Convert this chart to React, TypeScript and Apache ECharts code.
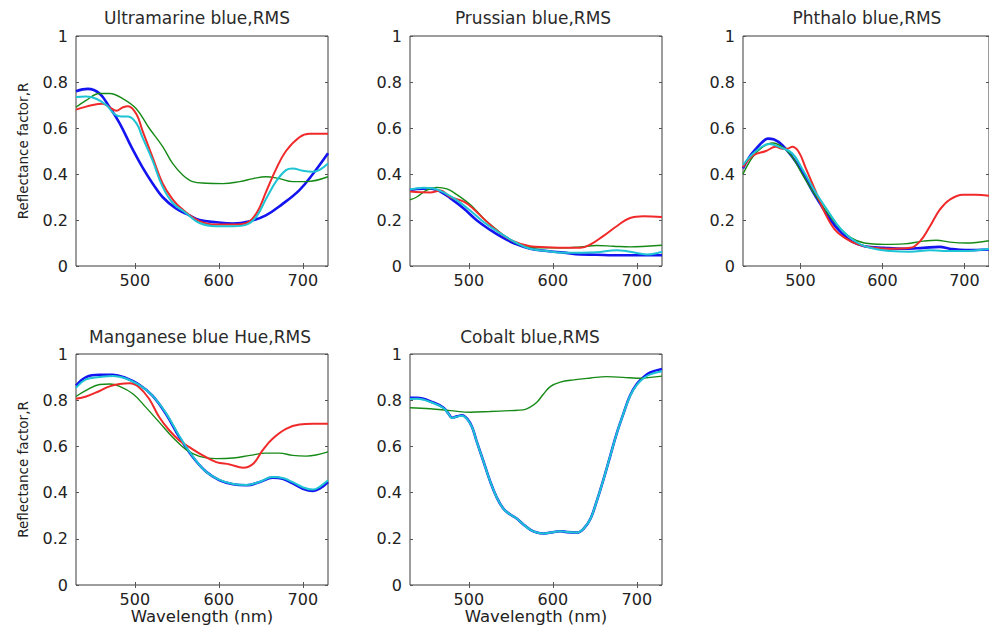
import React, { useEffect, useRef } from "react";
import * as echarts from "echarts";

// ---------- data ----------
const titles = [
  "Ultramarine blue,RMS",
  "Prussian blue,RMS",
  "Phthalo blue,RMS",
  "Manganese blue Hue,RMS",
  "Cobalt blue,RMS",
];
const xTicks = [500, 600, 700];
const yLabel = "Reflectance factor,R";
const xLabel = "Wavelength (nm)";

// Ultramarine blue
const ultramarineBlue = [[430,0.76],[444,0.77],[458,0.75],[470,0.69],[482,0.62],[497,0.51],[509,0.43],[521,0.36],[533,0.30],[549,0.25],[565,0.22],[577,0.20],[597,0.19],[617,0.185],[637,0.195],[656,0.22],[676,0.27],[696,0.33],[712,0.40],[730,0.49]];
const ultramarineRed = [[430,0.68],[450,0.70],[462,0.705],[470,0.69],[478,0.675],[486,0.69],[492,0.695],[502,0.66],[509,0.59],[521,0.475],[533,0.36],[545,0.29],[557,0.245],[577,0.195],[597,0.18],[617,0.18],[633,0.187],[645,0.23],[656,0.32],[668,0.42],[680,0.50],[696,0.56],[708,0.575],[730,0.575]];
const ultramarineCyan = [[430,0.735],[442,0.737],[454,0.727],[466,0.70],[476,0.66],[484,0.65],[492,0.65],[502,0.62],[509,0.56],[521,0.46],[533,0.345],[545,0.275],[561,0.23],[577,0.187],[597,0.173],[617,0.173],[633,0.18],[645,0.216],[656,0.29],[668,0.367],[680,0.417],[688,0.424],[700,0.414],[712,0.41],[730,0.446]];
const ultramarineGreen = [[430,0.69],[442,0.72],[458,0.75],[470,0.75],[486,0.727],[502,0.683],[517,0.60],[533,0.52],[545,0.446],[557,0.396],[569,0.367],[585,0.36],[605,0.358],[625,0.367],[641,0.38],[656,0.388],[672,0.38],[688,0.367],[704,0.367],[730,0.388]];

// Prussian blue
const prussianBlue = [[430,0.33],[438,0.335],[454,0.337],[466,0.324],[478,0.295],[494,0.25],[509,0.20],[525,0.158],[541,0.122],[557,0.094],[573,0.075],[593,0.065],[613,0.058],[633,0.05],[652,0.049],[672,0.047],[730,0.047]];
const prussianCyan = [[430,0.333],[446,0.34],[458,0.337],[470,0.32],[486,0.285],[502,0.24],[518,0.19],[534,0.15],[557,0.10],[573,0.075],[593,0.065],[613,0.058],[633,0.058],[652,0.06],[676,0.069],[692,0.062],[712,0.05],[730,0.062]];
const prussianRed = [[430,0.324],[454,0.32],[466,0.328],[478,0.30],[494,0.28],[505,0.25],[521,0.194],[537,0.144],[553,0.108],[573,0.086],[593,0.082],[613,0.079],[633,0.079],[645,0.094],[660,0.13],[676,0.173],[692,0.209],[708,0.216],[730,0.213]];
const prussianGreen = [[430,0.288],[438,0.30],[450,0.33],[462,0.342],[474,0.335],[486,0.31],[502,0.266],[517,0.209],[533,0.158],[549,0.115],[565,0.086],[585,0.079],[613,0.079],[633,0.083],[652,0.089],[672,0.086],[692,0.083],[712,0.086],[730,0.09]];

// Phthalo blue
const phthaloBlue = [[430,0.424],[438,0.475],[446,0.51],[454,0.54],[460,0.554],[468,0.55],[478,0.525],[490,0.475],[502,0.41],[514,0.33],[526,0.26],[538,0.194],[550,0.144],[562,0.108],[578,0.086],[602,0.079],[626,0.075],[650,0.079],[670,0.083],[682,0.075],[702,0.069],[730,0.072]];
const phthaloCyan = [[430,0.44],[446,0.50],[462,0.53],[474,0.518],[490,0.49],[502,0.424],[518,0.324],[534,0.237],[550,0.158],[570,0.10],[590,0.075],[610,0.065],[634,0.062],[658,0.069],[674,0.065],[698,0.065],[730,0.075]];
const phthaloRed = [[430,0.43],[442,0.48],[458,0.50],[470,0.518],[478,0.51],[484,0.51],[490,0.518],[498,0.496],[506,0.43],[518,0.33],[530,0.23],[542,0.158],[554,0.122],[570,0.094],[590,0.079],[610,0.075],[634,0.079],[646,0.108],[658,0.173],[670,0.245],[682,0.288],[698,0.31],[714,0.31],[730,0.305]];
const phthaloGreen = [[430,0.40],[442,0.475],[454,0.518],[466,0.535],[478,0.518],[490,0.475],[502,0.40],[514,0.33],[530,0.245],[546,0.173],[562,0.122],[578,0.10],[602,0.094],[626,0.096],[650,0.108],[666,0.112],[682,0.104],[702,0.10],[730,0.11]];

// Manganese blue Hue
const manganeseBlue = [[430,0.863],[442,0.90],[458,0.91],[474,0.91],[490,0.895],[505,0.868],[521,0.82],[537,0.741],[553,0.64],[569,0.554],[585,0.49],[601,0.453],[617,0.436],[633,0.432],[649,0.446],[664,0.465],[676,0.46],[688,0.44],[700,0.417],[712,0.407],[720,0.417],[730,0.446]];
const manganeseCyan = [[430,0.853],[442,0.89],[458,0.90],[474,0.905],[490,0.893],[505,0.866],[521,0.82],[537,0.745],[553,0.645],[569,0.557],[585,0.49],[601,0.455],[617,0.437],[633,0.433],[649,0.447],[664,0.467],[676,0.463],[688,0.445],[700,0.423],[712,0.413],[720,0.425],[730,0.453]];
const manganeseRed = [[430,0.806],[442,0.816],[458,0.84],[470,0.86],[482,0.87],[494,0.873],[505,0.856],[517,0.806],[529,0.727],[541,0.67],[553,0.626],[565,0.597],[581,0.561],[597,0.532],[613,0.522],[629,0.508],[641,0.525],[652,0.583],[664,0.633],[680,0.676],[696,0.695],[712,0.698],[730,0.698]];
const manganeseGreen = [[430,0.816],[442,0.842],[458,0.868],[470,0.87],[482,0.86],[498,0.827],[513,0.77],[529,0.705],[545,0.64],[561,0.586],[577,0.557],[597,0.547],[617,0.55],[637,0.561],[656,0.571],[672,0.571],[688,0.561],[704,0.558],[730,0.576]];

// Cobalt blue
const cobaltBlue = [[430,0.81],[438,0.81],[458,0.79],[470,0.767],[476,0.741],[480,0.724],[486,0.73],[492,0.735],[498,0.72],[504,0.683],[509,0.626],[517,0.54],[525,0.453],[533,0.381],[541,0.331],[549,0.306],[557,0.288],[565,0.262],[573,0.24],[581,0.227],[589,0.223],[597,0.227],[609,0.233],[617,0.229],[629,0.227],[637,0.245],[645,0.288],[652,0.36],[660,0.453],[668,0.554],[676,0.655],[684,0.741],[692,0.82],[700,0.87],[708,0.90],[716,0.92],[730,0.935]];
const cobaltCyan = [[430,0.805],[438,0.806],[458,0.787],[470,0.765],[476,0.74],[480,0.723],[486,0.729],[492,0.733],[498,0.718],[504,0.682],[509,0.625],[517,0.54],[525,0.453],[533,0.381],[541,0.331],[549,0.306],[557,0.288],[565,0.262],[573,0.24],[581,0.227],[589,0.223],[597,0.227],[609,0.233],[617,0.229],[629,0.227],[637,0.245],[645,0.288],[652,0.36],[660,0.453],[668,0.554],[676,0.655],[684,0.741],[692,0.818],[700,0.866],[708,0.895],[716,0.912],[730,0.925]];
const cobaltGreen = [[430,0.767],[454,0.763],[478,0.755],[502,0.748],[525,0.751],[549,0.755],[565,0.758],[573,0.77],[581,0.791],[589,0.827],[597,0.859],[609,0.878],[625,0.888],[645,0.896],[664,0.902],[684,0.899],[700,0.895],[716,0.899],[730,0.904]];

const panelSeries: Record<string, number[][]>[] = [
  { blue: ultramarineBlue, green: ultramarineGreen, red: ultramarineRed, cyan: ultramarineCyan },
  { blue: prussianBlue, green: prussianGreen, red: prussianRed, cyan: prussianCyan },
  { blue: phthaloBlue, green: phthaloGreen, red: phthaloRed, cyan: phthaloCyan },
  { blue: manganeseBlue, green: manganeseGreen, red: manganeseRed, cyan: manganeseCyan },
  { blue: cobaltBlue, green: cobaltGreen, cyan: cobaltCyan },
];

// ---------- layout / style ----------
const FONT = '"DejaVu Sans", "Liberation Sans", sans-serif';
const TEXT = "#222";
const layouts = [
  { left: 76, top: 36, width: 252, height: 230, tx: 197, ty: 9 },
  { left: 410, top: 36, width: 252, height: 230, tx: 533, ty: 9 },
  { left: 743, top: 36, width: 252, height: 230, tx: 867, ty: 9 },
  { left: 76, top: 354, width: 252, height: 231, tx: 200, ty: 328 },
  { left: 410, top: 354, width: 252, height: 231, tx: 530, ty: 328 },
];
const lineStyles: Record<string, { color: string; width: number }> = {
  blue: { color: "#1414f0", width: 2.6 },
  green: { color: "#168a16", width: 1.4 },
  red: { color: "#f02a2a", width: 2 },
  cyan: { color: "#1ec4d4", width: 2 },
};
const order = ["blue", "green", "red", "cyan"];

function buildOption() {
  const grid: any[] = [];
  const xAxis: any[] = [];
  const yAxis: any[] = [];
  const series: any[] = [];
  const title: any[] = [];
  layouts.forEach((l, i) => {
    grid.push({
      left: l.left, top: l.top, width: l.width, height: l.height,
      show: true, borderColor: "#3a3a3a", borderWidth: 1, backgroundColor: "#fff",
    });
    title.push({
      text: titles[i], left: l.tx, top: l.ty, textAlign: "center", padding: 0,
      textStyle: { fontSize: 17, fontWeight: "normal", color: "#2a2a2a", fontFamily: FONT },
    });
    const tickCommon = { inside: true, length: 3, lineStyle: { color: "#555" } };
    xAxis.push({
      type: "value", gridIndex: i, min: 430, max: 730, position: "bottom",
      axisLine: { show: false }, splitLine: { show: false },
      axisTick: { ...tickCommon, customValues: xTicks },
      axisLabel: {
        customValues: xTicks, fontSize: 16, fontFamily: FONT, color: TEXT, margin: 6,
        formatter: (v: number) => (v % 100 === 0 ? String(v) : ""),
      },
      name: i >= 3 ? xLabel : "", nameLocation: "middle", nameGap: 22,
      nameTextStyle: { fontSize: 16.5, fontFamily: FONT, color: TEXT },
    });
    xAxis.push({
      type: "value", gridIndex: i, min: 430, max: 730, position: "top",
      axisLine: { show: false }, splitLine: { show: false },
      axisTick: { ...tickCommon, customValues: xTicks },
      axisLabel: { show: false, customValues: xTicks },
    });
    yAxis.push({
      type: "value", gridIndex: i, min: 0, max: 1, interval: 0.2, position: "left",
      axisLine: { show: false }, splitLine: { show: false },
      axisTick: tickCommon,
      axisLabel: { fontSize: 16, fontFamily: FONT, color: TEXT, margin: 8 },
      name: i === 0 || i === 3 ? yLabel : "", nameLocation: "middle", nameGap: 46, nameRotate: 90,
      nameTextStyle: { fontSize: 13.5, fontFamily: FONT, color: TEXT },
    });
    yAxis.push({
      type: "value", gridIndex: i, min: 0, max: 1, interval: 0.2, position: "right",
      axisLine: { show: false }, splitLine: { show: false },
      axisTick: tickCommon, axisLabel: { show: false },
    });
    const ps = panelSeries[i];
    order.forEach((c) => {
      const d = ps[c];
      if (!d || !d.length) return;
      series.push({
        type: "line", xAxisIndex: i * 2, yAxisIndex: i * 2, data: d,
        showSymbol: false, symbol: "none", smooth: 0.4,
        lineStyle: { color: lineStyles[c].color, width: lineStyles[c].width },
        clip: true, silent: true,
      });
    });
  });
  return { animation: false, backgroundColor: "#fff", title, grid, xAxis, yAxis, series };
}

export default function App() {
  const ref = useRef<HTMLDivElement>(null);
  useEffect(() => {
    if (!ref.current) return;
    const chart = echarts.init(ref.current, undefined, { renderer: "svg" });
    chart.setOption(buildOption() as any);
    return () => chart.dispose();
  }, []);
  return (
    <div
      ref={ref}
      style={{ position: "absolute", left: 0, top: 0, width: 989, height: 627, background: "#fff" }}
    />
  );
}
